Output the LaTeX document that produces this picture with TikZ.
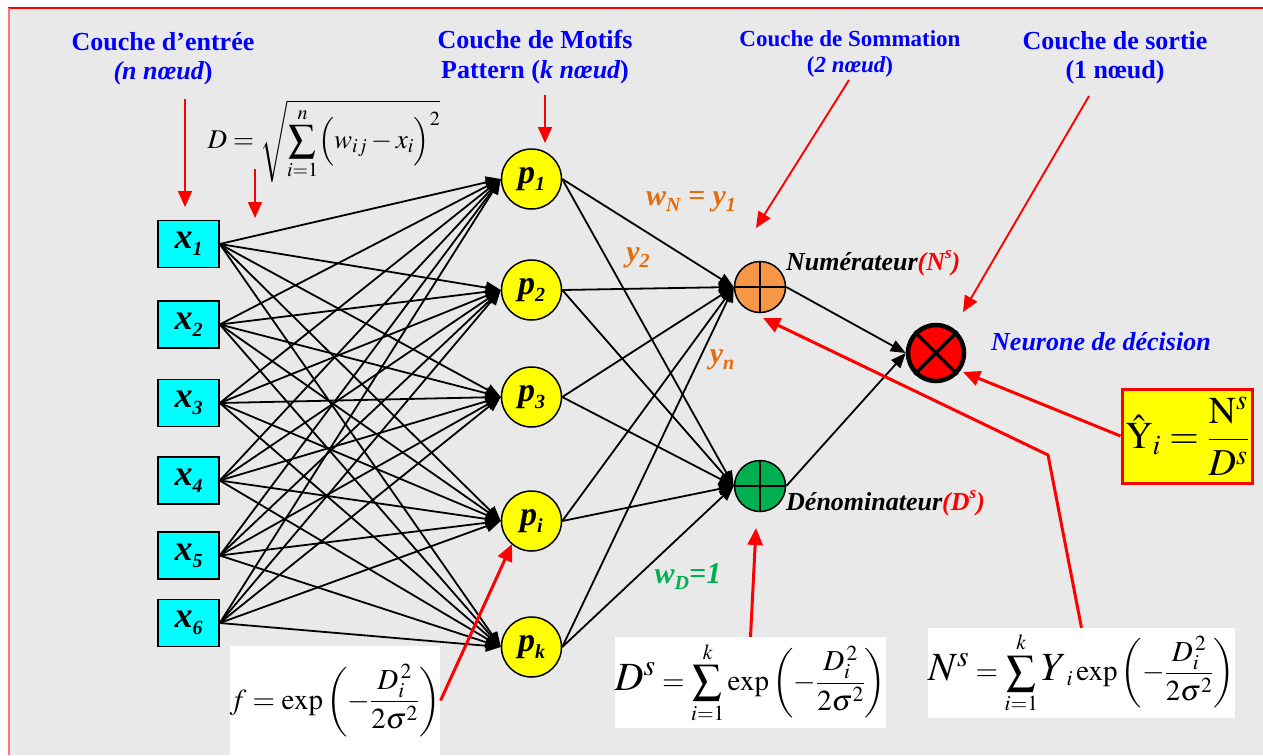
\documentclass[tikz,border=0pt]{standalone}
\usepackage{mathptmx}
\usepackage[no-math]{fontspec}
\setmainfont{Liberation Serif}
\usetikzlibrary{arrows.meta}
\definecolor{bgc}{RGB}{233,233,233}
\definecolor{numor}{RGB}{247,150,70}
\definecolor{txtor}{RGB}{228,108,10}
\definecolor{grn}{RGB}{0,176,80}
\definecolor{blu}{RGB}{0,0,255}
\definecolor{cyn}{RGB}{0,255,255}
\definecolor{yel}{RGB}{255,255,0}
\definecolor{rd}{RGB}{255,0,0}
\newcommand\xlab[1]{{\fontsize{36}{36}\selectfont\bfseries\itshape x\raisebox{-0.2em}{\fontsize{20}{20}\selectfont #1}}}
\newcommand\plab[1]{{\fontsize{34}{34}\selectfont\bfseries\itshape p\raisebox{-0.2em}{\fontsize{20}{20}\selectfont #1}}}
\tikzset{
  inbox/.style={rectangle,draw,line width=1.5pt,fill=cyn,minimum width=61pt,minimum height=47pt,inner sep=0pt},
  pnode/.style={circle,draw,line width=1.5pt,fill=yel,minimum size=60pt,inner sep=0pt},
  snode/.style={circle,draw,line width=1.5pt,minimum size=51pt,inner sep=0pt},
  dnode/.style={circle,draw,line width=4.5pt,fill=rd,minimum size=56pt,inner sep=0pt},
  conn/.style={draw,line width=1.8pt,-{Triangle[length=15pt,width=12pt]}},
  redarr/.style={draw=rd,line width=1.9pt,-{Triangle[length=16pt,width=14pt]}},
  redthick/.style={draw=rd,line width=3pt,-{Triangle[length=17pt,width=15pt]}},
  title/.style={text=blu,font=\fontsize{26}{30}\selectfont\bfseries,inner sep=0pt},
  titles/.style={text=blu,font=\fontsize{23}{27}\selectfont\bfseries,inner sep=0pt},
  orlab/.style={text=txtor,font=\fontsize{30}{32}\selectfont\bfseries\itshape,inner sep=0pt},
  wbox/.style={fill=white,inner sep=0pt},
  mathf/.style={font=\fontsize{29}{32}\selectfont},
}
\newcommand\bigL[1]{\mbox{\fontsize{40}{40}\selectfont$#1$}}
\begin{document}
\begin{tikzpicture}[x=1pt,y=-1pt]
\useasboundingbox (0,0) rectangle (1263,755);
\fill[bgc] (8,8) rectangle (1263,755);
\draw[rd,line width=1.5pt] (8,8) -- (1263,8);
\draw[rd!55,line width=2pt] (9,8) -- (9,755);

% titles
\node[title] (t1) at (163,42) {Couche d’entrée};
\node[title] (t1b) at (163,73) {{\itshape (n nœud})};
\node[title] (t2) at (535,40) {Couche de Motifs};
\node[title] (t2b) at (535,72) {Pattern ({\itshape k nœud})};
\node[titles] (t3) at (850,39) {Couche de Sommation};
\node[titles] (t3b) at (850,67) {({\itshape 2 nœud})};
\node[title] (t4) at (1115,41) {Couche de sortie};
\node[title] (t4b) at (1115,72) {(1 nœud)};

% distance formula
\node[font=\fontsize{27}{30}\selectfont] (dform) at (324,141) {$\displaystyle D=\sqrt{\sum_{i=1}^{n}\Bigl(w_{ij}-x_i\Bigr)^2}$};

% input nodes
\node[inbox] (x1) at (188.5,244) {\xlab{1}};
\node[inbox] (x2) at (188.5,324.5) {\xlab{2}};
\node[inbox] (x3) at (188.5,403) {\xlab{3}};
\node[inbox] (x4) at (188.5,480.5) {\xlab{4}};
\node[inbox] (x5) at (188.5,555.5) {\xlab{5}};
\node[inbox] (x6) at (188.5,623) {\xlab{6}};

% pattern nodes
\node[pnode] (p1) at (531.5,179) {\plab{1}};
\node[pnode] (p2) at (531.5,290) {\plab{2}};
\node[pnode] (p3) at (531.5,397) {\plab{3}};
\node[pnode] (pi) at (531.5,521) {\plab{i}};
\node[pnode] (pk) at (531.5,647) {\plab{k}};

% summation nodes
\node[snode,fill=numor] (num) at (760,287) {};
\node[snode,fill=grn] (den) at (760,486) {};
\draw[line width=1.5pt] (num.north) -- (num.south) (num.west) -- (num.east);
\draw[line width=1.5pt] (den.north) -- (den.south) (den.west) -- (den.east);

% decision node
\node[dnode] (dec) at (936,353) {};
\draw[line width=3.5pt] (dec.north west) -- (dec.south east) (dec.north east) -- (dec.south west);

% input -> pattern
\foreach \a in {x1,x2,x3,x4,x5,x6}{
  \foreach \b in {p1,p2,p3,pi,pk}{
    \draw[conn] (\a.east) -- (\b.west);
  }
}
% pattern -> summation
\foreach \b in {p1,p2,p3,pi,pk}{
  \draw[conn] (\b.east) -- (num.west);
  \draw[conn] (\b.east) -- (den.west);
}
% summation -> decision
\draw[conn] (num.east) -- (dec.west);
\draw[conn] (den.east) -- (dec.west);

% weight labels
\node[orlab] (wn) at (691,202) {w\raisebox{-0.2em}{\fontsize{20}{20}\selectfont N} = y\raisebox{-0.2em}{\fontsize{20}{20}\selectfont 1}};
\node[orlab] (y2) at (638,258) {y\raisebox{-0.2em}{\fontsize{20}{20}\selectfont 2}};
\node[orlab] (yn) at (722,360) {y\raisebox{-0.2em}{\fontsize{20}{20}\selectfont n}};
\node[orlab,text=grn] (wd) at (688,577) {w\raisebox{-0.2em}{\fontsize{20}{20}\selectfont D}=1};

% node labels
\node[anchor=west,inner sep=0pt,font=\fontsize{26}{28}\selectfont\bfseries\itshape] (numlab) at (786,263) {Numérateur\textcolor{rd}{(N\raisebox{0.45em}{\fontsize{17}{17}\selectfont s})}};
\node[anchor=west,inner sep=0pt,font=\fontsize{26}{28}\selectfont\bfseries\itshape] (denlab) at (786,503) {Dénominateur\textcolor{rd}{(D\raisebox{0.45em}{\fontsize{17}{17}\selectfont s})}};
\node[anchor=west,inner sep=0pt,text=blu,font=\fontsize{26}{30}\selectfont\bfseries\itshape] (declab) at (991,342) {Neurone de décision};

% formula boxes
\node[draw=rd,line width=3pt,fill=yel,minimum width=130pt,minimum height=94pt,inner sep=0pt,font=\fontsize{38}{40}\selectfont] (ybox) at (1187,436) {$\displaystyle\hat{\mathrm{Y}}_i=\frac{\mathrm{N}^s}{D^s}$};
\node[wbox,minimum width=210pt,minimum height=109pt,mathf] (fbox) at (335,700.5) {$\displaystyle f=\exp\left(-\frac{D_i^{\,2}}{2\sigma^2}\right)$};
\node[wbox,minimum width=265pt,minimum height=91pt,mathf] (dsbox) at (750.5,682.5) {$\displaystyle \bigL{D^s}=\sum_{i=1}^{k}\exp\left(-\frac{D_i^{\,2}}{2\sigma^2}\right)$};
\node[wbox,minimum width=307pt,minimum height=90pt,mathf] (nsbox) at (1081.5,673) {$\displaystyle \bigL{N^s}=\sum_{i=1}^{k}\bigL{Y}_i\exp\left(-\frac{D_i^{\,2}}{2\sigma^2}\right)$};

% red pointer arrows
\coordinate (a1s) at (185,99);   \coordinate (a1e) at (185,207);
\coordinate (a2s) at (255,169);  \coordinate (a2e) at (255,218);
\coordinate (a3s) at (545,95);   \coordinate (a3e) at (545,143);
\coordinate (a4s) at (849,80);   \coordinate (a4e) at (756,228);
\coordinate (a5s) at (1089,96);  \coordinate (a5e) at (963,312);
\coordinate (a6e) at (963,372);
\coordinate (a7m) at (1048,455); \coordinate (a7e) at (763,318);
\coordinate (a8e) at (756,528);
\coordinate (a9e) at (512,544);
\draw[redarr] (a1s) -- (a1e);
\draw[redarr] (a2s) -- (a2e);
\draw[redarr] (a3s) -- (a3e);
\draw[redarr] (a4s) -- (a4e);
\draw[redarr] (a5s) -- (a5e);
\draw[redthick] (ybox.west) -- (a6e);
\draw[redthick] (nsbox.north) -- (a7m) -- (a7e);
\draw[redthick] (dsbox.north) -- (a8e);
\draw[redthick] (fbox.east) -- (a9e);
\end{tikzpicture}
\end{document}
